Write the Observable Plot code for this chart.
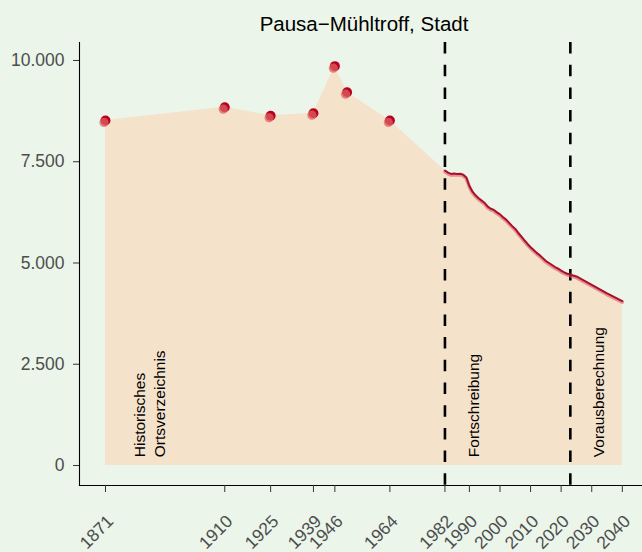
<!DOCTYPE html>
<html><head><meta charset="utf-8">
<script src="https://cdn.jsdelivr.net/npm/d3@7"></script>
<script src="https://cdn.jsdelivr.net/npm/@observablehq/plot@0.6"></script>
<style>
html,body{margin:0;padding:0;background:#ebf5ea;}
#chart{width:642px;height:552px;}
</style></head><body><div id="chart"></div>
<script>
const title = "Pausa\u2212Mühltroff, Stadt";
const histYears = [1871, 1910, 1925, 1939, 1946, 1950, 1964];
const histValues = [8519, 8847, 8635, 8699, 9860, 9217, 8519];
const fortYears = [1982,1983,1984,1985,1986,1987,1988,1989,1990,1991,1992,1993,1994,1995,1996,1997,1998,1999,2000,2001,2002,2003,2004,2005,2006,2007,2008,2009,2010,2011,2012,2013,2014,2015,2016,2017,2018,2019,2020,2021,2022];
const fortValues = [7284,7230,7200,7210,7200,7205,7180,7110,6900,6760,6670,6600,6540,6480,6390,6340,6310,6250,6200,6130,6070,5990,5910,5840,5740,5650,5560,5470,5390,5320,5250,5190,5120,5050,5000,4950,4900,4860,4810,4770,4735];
const projYears = [2022, 2025, 2030, 2035, 2040];
const projValues = [4735, 4667, 4460, 4250, 4060];
const breakYears = [1982, 2023];
const xTicks = [1871, 1910, 1925, 1939, 1946, 1964, 1982, 1990, 2000, 2010, 2020, 2030, 2040];
const yTicks = [0, 2500, 5000, 7500, 10000];
const yTickLabels = ["0", "2.500", "5.000", "7.500", "10.000"];
const labelYears = [1885, 1991, 2032];
const labelTexts = ["Historisches\nOrtsverzeichnis", "Fortschreibung", "Vorausberechnung"];
const labelValue = 205;

const hist = histYears.map((year, i) => ({year, value: histValues[i]}));
const fort = fortYears.map((year, i) => ({year, value: fortValues[i]}));
const proj = projYears.map((year, i) => ({year, value: projValues[i]}));
const lineData = fort.concat(proj.slice(1));
const areaData = hist.concat(lineData);
const labels = labelYears.map((year, i) => ({year, value: labelValue, text: labelTexts[i]}));

const font = "'Liberation Sans', Arial, Helvetica, sans-serif";
const plot = Plot.plot({
  width: 642, height: 552,
  marginLeft: 79, marginRight: 0, marginTop: 42, marginBottom: 67,
  style: {background: "#ebf5ea", fontFamily: font, overflow: "visible"},
  x: {domain: [1862.5, 2046.6]},
  y: {domain: [-494, 10444]},
  marks: [
    Plot.areaY(areaData, {x: "year", y: "value", fill: "#f5e2cb"}),
    Plot.ruleX(breakYears, {stroke: "black", strokeWidth: 2.6, strokeDasharray: "11.5,11.2"}),
    Plot.line(lineData, {x: "year", y: "value", stroke: "#dc5a66", strokeWidth: 3.5, strokeOpacity: 0.6, dy: 1.2}),
    Plot.line(lineData, {x: "year", y: "value", stroke: "#a8102e", strokeWidth: 2}),
    Plot.dot(hist, {x: "year", y: "value", r: 5, fill: "#b8001f"}),
    Plot.dot(hist, {x: "year", y: "value", r: 4.6, fill: "#e06060", fillOpacity: 0.75, dx: -1.5, dy: 2}),
    Plot.text(labels, {x: "year", y: "value", text: "text", rotate: -90, textAnchor: "start", lineHeight: 1.32, fontSize: 15.5, fill: "black"}),
    Plot.frame({anchor: "left", stroke: "black", strokeWidth: 1.1}),
    Plot.frame({anchor: "bottom", stroke: "black", strokeWidth: 1.1}),
    Plot.axisY(yTicks, {tickSize: 6, tickPadding: 9, tickFormat: d => yTickLabels[yTicks.indexOf(d)], fontSize: 17.5, stroke: "#333333", fill: "#4d4d4d", label: null}),
    Plot.axisX(xTicks, {tickSize: 7, tickFormat: () => "", stroke: "#333333", label: null}),
    Plot.axisX(xTicks, {tickSize: 0, tickPadding: 33, tickRotate: -45, dx: 5, tickFormat: d => String(d), fontSize: 17.5, fill: "#4d4d4d", label: null}),
    Plot.text([title], {frameAnchor: "top", lineAnchor: "bottom", dy: -12, dx: 3, fontSize: 20.5, fill: "black"})
  ]
});
document.getElementById("chart").appendChild(plot);
</script>
</body></html>
